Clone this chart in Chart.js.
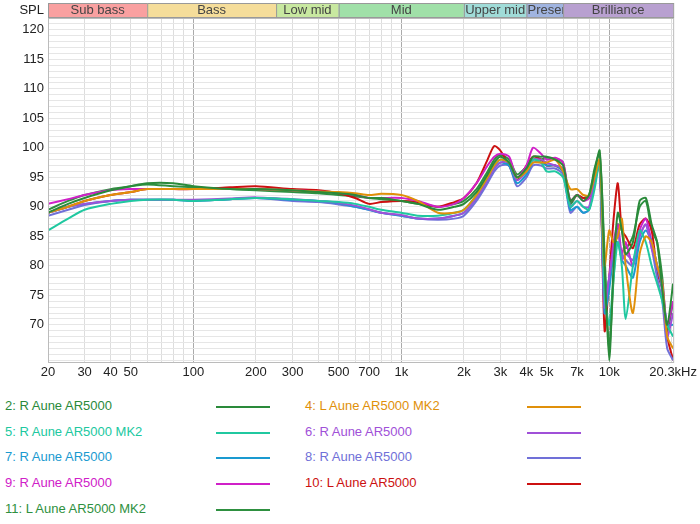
<!DOCTYPE html>
<html><head><meta charset="utf-8">
<script src="https://cdn.jsdelivr.net/npm/chart.js@4"></script>
<style>
body{margin:0;background:#fff;font-family:"Liberation Sans",Arial,sans-serif;}
#wrap{position:relative;width:700px;height:390px;}
#leg{position:relative;width:700px;height:134px;}
.it{position:absolute;font-size:13px;}
.ln{position:absolute;height:2px;width:54px;}
</style></head><body>
<div id="wrap"><canvas id="c" width="700" height="390"></canvas></div>
<div id="leg"></div>
<script>
const freqs=[20,25,30,40,50,60,80,100,150,200,300,400,500,600,700,800,1000,1200,1500,1800,2000,2300,2600,2800,3000,3300,3600,4000,4300,4700,5000,5500,6000,6500,7000,7500,8000,8500,9000,9500,10000,10500,11000,11500,12000,13000,14000,15000,16000,17000,18000,19000,20300];
const names=["2: R Aune AR5000","4: L Aune AR5000 MK2","5: R Aune AR5000 MK2","6: R Aune AR5000","7: R Aune AR5000","8: R Aune AR5000","9: R Aune AR5000","10: L Aune AR5000","11: L Aune AR5000 MK2"];
const colors=["#2a8a3a","#e0900a","#20c8a0","#a050d8","#1a9ad0","#7070d8","#d020c8","#cc1010","#2e9040"];
const s2=[89,90.5,91.5,92.8,93.5,94,94,93.5,93,93,92.8,92.5,92.3,92,91.5,91.5,91,90.5,89.5,90,90.5,92.5,95.5,97.5,98.5,97.5,95,96.5,98.5,98.5,98.5,98,97,91,92,91,92,96,99.5,80,64,80,89,86,82,84,91,91.5,87,84,76,70,77];
const s4=[89,90,91,92,92.5,93,93,93,93,93,92.8,92.6,92.5,92.3,92,92.2,92,91,89,89,89.5,92,95,97,98,97.5,95,96,97.5,97.5,97.5,98,96,93,93,92,92,95,98,80,86,84,85,88,80,72,82,85,84,80,77,68,66];
const s5=[86,88,89.5,90.5,91,91.2,91.2,91,91.3,91.5,91.3,91,90.8,90.5,90,89.5,89,88.5,88.5,89,89.5,92,95,97,98,97.5,95,96,98,97.5,96,96,95,90,91,90,89.5,93,97.5,75,70,78,84,80,71,80,86,84,80,77,74,70,68];
const s6=[89,90,90.5,91,91.2,91.2,91.2,91.2,91.4,91.6,91.3,91,90.7,90.2,89.6,89,88.6,88,88,88.5,89,91.5,94.5,96.5,97.5,97.5,94.5,96,98,98,97.5,97,96.5,90,91,90,90,94.5,97,73,78,83,86,81,82,81,85,87,83,80,76,68,72];
const s7=[89,90,90.5,91,91.2,91.2,91.2,91,91.3,91.5,91.2,91,90.6,90,89.5,89,88.5,88,88,88.5,89,91.5,94.5,96.5,97.5,97,94,95.5,97.5,97.5,97,97,96,89.5,90,89,89.5,94,97.5,72,76,82,84,81,80,78,84,86,84,80,76,70,70];
const s8=[88.5,89.5,90.3,91,91.2,91.2,91.2,91,91.3,91.5,91,90.8,90.4,90,89.5,89,88.5,88,87.8,88,88.5,91,94,96,97,97,93.5,95,97,97,96.5,96.5,95.5,89,90,89,89.5,94,97,74,78,82,84,82,81,80,85,87,83,78,74,66,64];
const s9=[90.5,91.3,92,92.8,93,93,93,93,93,93,92.8,92.6,92.4,92,91.5,91.5,91.5,91,90,90.5,91.5,94,97,98.5,99,98.5,95,97,100,99,98,98.3,97.5,91,92,91,91.5,95,97.5,72,78,84,87,82,84,80,86,88,84,80,77,70,74];
const s10=[89,90,91,92,92.5,93,93,93,93.3,93.5,93,92.8,92.3,91.5,90.5,90.8,91,90.8,90,90.8,91.5,94,98,100.3,99.5,97,94.5,97,98.5,98,97,97,96,91,92,91.5,91.5,95,97,69,78,88,94,86,85,83,87,88,86,79,76,68,64];
const s11=[89.5,91,92,93,93.5,93.8,93.5,93.3,93,92.8,92.5,92.3,92,91.8,91.5,91.3,91,90.5,90,90.5,91,93,96,98,98.8,98,95.5,96.8,98,98,98.3,98.2,97.5,90.5,92,91.5,92,96.5,99,82,66,78,87,86,83,85,90,91,86,84,78,69,74];
const series=[s2,s4,s5,s6,s7,s8,s9,s10,s11];
const gridFreqs=[20,30,40,50,60,70,80,90,100,200,300,400,500,600,700,800,900,1000,2000,3000,4000,5000,6000,7000,8000,9000,10000,20000];
const xLabels={20:"20",30:"30",40:"40",50:"50",100:"100",200:"200",300:"300",500:"500",700:"700",1000:"1k",2000:"2k",3000:"3k",4000:"4k",5000:"5k",7000:"7k",10000:"10k",20300:"20.3kHz"};
const bands=[["Sub bass",20,60,"#f9a0a0"],["Bass",60,250,"#f5dd9a"],["Low mid",250,500,"#c8e8a0"],["Mid",500,2000,"#a0e0a8"],["Upper mid",2000,4000,"#a0dcd8"],["Presence",4000,6000,"#a0b4e0"],["Brilliance",6000,20300,"#b8a0d0"]];

const bandPlugin={id:"bands",afterDraw(ch){
  const c=ch.ctx,x=ch.scales.x,a=ch.chartArea;
  c.save();
  bands.forEach(b=>{
    const x0=x.getPixelForValue(b[1]),x1=x.getPixelForValue(b[2]);
    c.fillStyle=b[3];c.fillRect(x0,3,x1-x0,14);
    c.strokeStyle="#999";c.lineWidth=1;c.strokeRect(x0+0.5,3.5,x1-x0,14);
    c.save();c.beginPath();c.rect(x0,3,x1-x0,14);c.clip();
    c.fillStyle="#444";c.font="13px 'Liberation Sans',Arial";c.textBaseline="middle";
    const w=c.measureText(b[0]).width;
    if(w>x1-x0-2){c.textAlign="left";c.fillText(b[0],x0+1,10.5);}
    else{c.textAlign="center";c.fillText(b[0],(x0+x1)/2,10.5);}
    c.restore();
  });
  c.fillStyle="#222";c.font="13px 'Liberation Sans',Arial";c.textAlign="right";c.textBaseline="middle";
  c.fillText("SPL",44,10.5);
  c.strokeStyle="#bbb";c.lineWidth=1;c.strokeRect(a.left+0.5,a.top+0.5,a.right-a.left,a.bottom-a.top);
  c.restore();
}};

new Chart(document.getElementById("c"),{
  type:"line",
  data:{datasets:series.map((s,i)=>({label:names[i],data:s.map((v,j)=>({x:freqs[j],y:v})),borderColor:colors[i],borderWidth:2,pointRadius:0,tension:0.25,fill:false}))},
  options:{responsive:false,animation:false,layout:{padding:{top:18,right:21,left:0,bottom:0}},
    plugins:{legend:{display:false},tooltip:{enabled:false}},
    scales:{
      x:{type:"logarithmic",min:20,max:20300,
        afterBuildTicks(s){s.ticks=gridFreqs.concat([20300]).map(v=>({value:v}));},
        afterFit(s){s.height=28;},
        ticks:{autoSkip:false,maxRotation:0,color:"#222",font:{size:13,family:"'Liberation Sans',Arial"},callback:(v)=>xLabels[v]||""},
        grid:{drawTicks:false,color:(ctx)=>{const v=ctx.tick&&ctx.tick.value;return (v===100||v===1000||v===10000)?"#aaa":(v===20300?"rgba(0,0,0,0)":"#ddd");}},
        border:{display:false}},
      y:{min:63.7,max:122,
        afterBuildTicks(s){const t=[];for(let v=64;v<=122;v++)t.push({value:v});s.ticks=t;},
        afterFit(s){s.width=48;},
        ticks:{autoSkip:false,color:"#222",font:{size:13,family:"'Liberation Sans',Arial"},padding:4,callback:(v)=>(v%5===0&&v>=70&&v<=120)?String(v):""},
        grid:{drawTicks:false,color:"#e6e6e6"},border:{display:false}}
    }},
  plugins:[bandPlugin]
});

const leg=document.getElementById("leg");
names.forEach((n,i)=>{
  const col=i%2,row=Math.floor(i/2);
  const y=row*25.7+8;
  const t=document.createElement("div");t.className="it";t.textContent=n;t.style.color=colors[i];
  t.style.left=(col?305:5)+"px";t.style.top=y+"px";leg.appendChild(t);
  const l=document.createElement("div");l.className="ln";l.style.background=colors[i];
  l.style.left=(col?527:216)+"px";l.style.top=(y+8)+"px";leg.appendChild(l);
});
</script></body></html>
